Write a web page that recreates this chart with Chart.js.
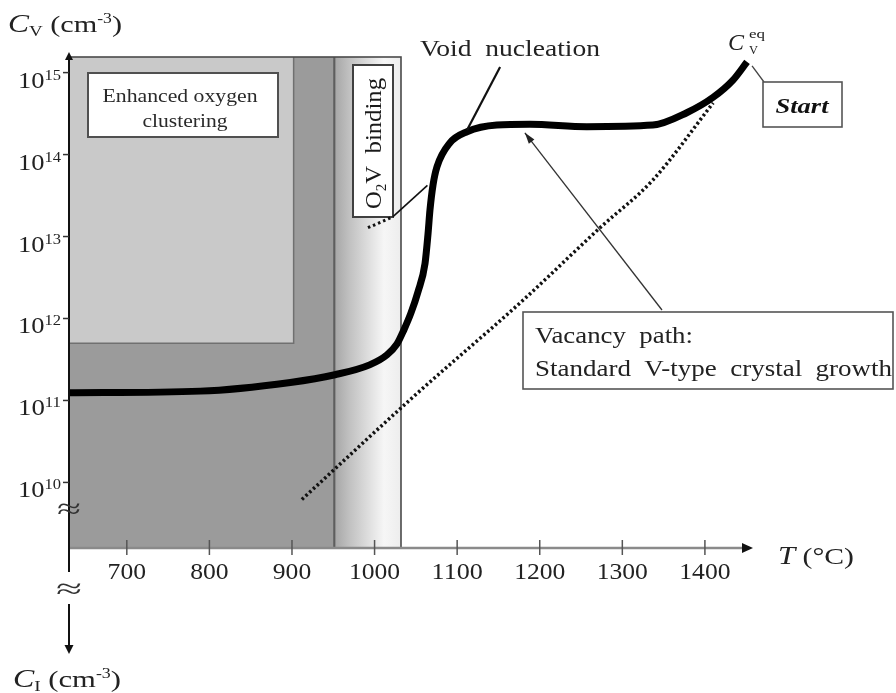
<!DOCTYPE html>
<html><head><meta charset="utf-8">
<script src="https://cdn.jsdelivr.net/npm/chart.js@4.4.1/dist/chart.umd.min.js"></script>
<style>html,body{margin:0;padding:0;background:#fff}#wrap{width:896px;height:693px}</style>
</head><body><div id="wrap"><canvas id="c" width="896" height="693"></canvas></div>
<script>
// ---- data ----
const curveT  = [630, 789, 898, 952, 994, 1015, 1027.2, 1035.6, 1044.1, 1052.6, 1061.1, 1064.7, 1067.1, 1070.8, 1075.6, 1091, 1112, 1148, 1188, 1257, 1337, 1378, 1410, 1434, 1451];
const curveCv = [1.24e11, 1.30e11, 1.66e11, 2.06e11, 2.72e11, 3.6e11, 4.9e11, 7.3e11, 1.17e12, 2.12e12, 4.7e12, 1.07e13, 2.11e13, 4.27e13, 7.1e13, 1.38e14, 1.9e14, 2.29e14, 2.34e14, 2.19e14, 2.29e14, 3.24e14, 5.0e14, 8.1e14, 1.35e15];
const pathT   = [912, 1047, 1180, 1273, 1337, 1410];
const pathCv  = [6.2e9, 1.11e11, 1.68e12, 1.28e13, 4.9e13, 4.27e14];
const o2vDotT = [992, 1022];
const o2vDotCv= [1.28e13, 1.74e13];
const o2vT    = [1022, 1064];
const o2vCv   = [1.74e13, 4.2e13];
const voidT   = [1152, 1112];
const voidCv  = [1.17e15, 2.0e14];
const arrowT  = [1348, 1182];
const arrowCv = [1.27e12, 1.84e14];
const xTicks  = [700, 800, 900, 1000, 1100, 1200, 1300, 1400];
const yTickExp = [10, 11, 12, 13, 14, 15];
const yTickVals = [1e10, 1e11, 1e12, 1e13, 1e14, 1e15];
const clusterT = [630, 902];
const clusterCvBottom = 5.0e11;
const darkT = [630, 950];
const bindT = [950, 1032];
const xRange = [630, 1454.6];
const yRange = [1.585e9, 1.55e15];

const SERIF = '"Liberation Serif", "DejaVu Serif", serif';
function pts(xs, ys){ return xs.map((v,i)=>({x:v, y:ys[i]})); }

function drawRuns(ctx, runs, x, y, targetW, align){
  let total = 0; const ws = [];
  for (const r of runs){ ctx.font = r[1]; const w = ctx.measureText(r[0]).width; ws.push(w); total += w; }
  const s = targetW ? targetW/total : 1;
  const W = total*s;
  const x0 = align==='center' ? x-W/2 : align==='right' ? x-W : x;
  ctx.save(); ctx.translate(x0, y); ctx.scale(s, 1);
  ctx.textBaseline = 'alphabetic'; ctx.textAlign = 'left';
  let cx = 0;
  runs.forEach((r,i)=>{ ctx.font = r[1]; ctx.fillText(r[0], cx, r[2]||0); cx += ws[i]; });
  ctx.restore();
}
function arrowHead(ctx, x1, y1, x2, y2, len, half){
  const a = Math.atan2(y2-y1, x2-x1);
  ctx.beginPath();
  ctx.moveTo(x2, y2);
  ctx.lineTo(x2 - len*Math.cos(a) + half*Math.sin(a), y2 - len*Math.sin(a) - half*Math.cos(a));
  ctx.lineTo(x2 - len*Math.cos(a) - half*Math.sin(a), y2 - len*Math.sin(a) + half*Math.cos(a));
  ctx.closePath(); ctx.fill();
}
function box(ctx, x, y, w, h, lw, col){
  ctx.fillStyle = '#fff'; ctx.fillRect(x, y, w, h);
  ctx.strokeStyle = col; ctx.lineWidth = lw; ctx.strokeRect(x, y, w, h);
}

const figPlugin = {
  id: 'fig',
  beforeDraw(chart){
    const ctx = chart.ctx; ctx.save(); ctx.fillStyle = '#fff'; ctx.fillRect(0,0,chart.width,chart.height); ctx.restore();
  },
  beforeDatasetsDraw(chart){
    const ctx = chart.ctx, xs = chart.scales.x, ys = chart.scales.y;
    const top = chart.chartArea.top, bottom = chart.chartArea.bottom;
    ctx.save();
    const xd0 = xs.getPixelForValue(darkT[0]), xd1 = xs.getPixelForValue(darkT[1]);
    const xb1 = xs.getPixelForValue(bindT[1]);
    const xc1 = xs.getPixelForValue(clusterT[1]);
    const yc = ys.getPixelForValue(clusterCvBottom);
    // dark region
    ctx.fillStyle = '#9b9b9b'; ctx.fillRect(xd0, top, xd1-xd0, bottom-top);
    // binding gradient
    const g = ctx.createLinearGradient(xd1, 0, xb1, 0);
    g.addColorStop(0, '#a4a4a4'); g.addColorStop(0.25, '#c2c2c2'); g.addColorStop(0.75, '#f6f6f6'); g.addColorStop(1, '#ededed');
    ctx.fillStyle = g; ctx.fillRect(xd1, top, xb1-xd1, bottom-top);
    // clustering region
    ctx.fillStyle = '#c9c9c9'; ctx.fillRect(xd0, top, xc1-xd0, yc-top);
    ctx.strokeStyle = '#707070'; ctx.lineWidth = 1.5;
    ctx.beginPath(); ctx.moveTo(xc1, top); ctx.lineTo(xc1, yc); ctx.lineTo(xd0, yc); ctx.stroke();
    // dark boundary line
    ctx.strokeStyle = '#5e5e5e'; ctx.lineWidth = 2.2;
    ctx.beginPath(); ctx.moveTo(xd1+1, top); ctx.lineTo(xd1+1, bottom); ctx.stroke();
    // outer frame
    ctx.strokeStyle = '#4a4a4a'; ctx.lineWidth = 1.6;
    ctx.strokeRect(xd0, top, xb1-xd0, bottom-top);
    // Enhanced oxygen clustering box
    box(ctx, 88, 73, 190, 64, 2, '#505050');
    ctx.fillStyle = '#2a2a2a';
    drawRuns(ctx, [['Enhanced oxygen', '19px '+SERIF]], 180, 102, 155, 'center');
    drawRuns(ctx, [['clustering', '19px '+SERIF]], 185, 127, 85, 'center');
    // O2V binding box
    box(ctx, 353, 65, 40, 152, 2, '#404040');
    ctx.save(); ctx.translate(381, 209); ctx.rotate(-Math.PI/2);
    ctx.fillStyle = '#1a1a1a';
    drawRuns(ctx, [['O', '23px '+SERIF], ['2', '14px '+SERIF, 5], ['V  binding', '23px '+SERIF]], 0, 0, 131, 'left');
    ctx.restore();
    ctx.restore();
  },
  afterDatasetsDraw(chart){
    const ctx = chart.ctx, xs = chart.scales.x, ys = chart.scales.y;
    const ca = chart.chartArea;
    ctx.save();
    // vacancy path arrow head
    ctx.fillStyle = '#222';
    const ax1 = xs.getPixelForValue(arrowT[0]), ay1 = ys.getPixelForValue(arrowCv[0]);
    const ax2 = xs.getPixelForValue(arrowT[1]), ay2 = ys.getPixelForValue(arrowCv[1]);
    arrowHead(ctx, ax1, ay1, ax2, ay2, 11, 3.5);
    // x axis
    ctx.strokeStyle = '#8a8a8a'; ctx.lineWidth = 2.5;
    ctx.beginPath(); ctx.moveTo(ca.left, ca.bottom); ctx.lineTo(ca.right-5, ca.bottom); ctx.stroke();
    ctx.fillStyle = '#111';
    arrowHead(ctx, ca.left, ca.bottom, ca.right+3, ca.bottom, 11, 5);
    ctx.strokeStyle = '#555'; ctx.lineWidth = 1.5;
    ctx.fillStyle = '#222';
    xTicks.forEach(v=>{
      const px = xs.getPixelForValue(v);
      ctx.beginPath(); ctx.moveTo(px, ca.bottom-8); ctx.lineTo(px, ca.bottom+7); ctx.stroke();
      drawRuns(ctx, [[String(v), '24px '+SERIF]], px, 579, String(v).length*12.8, 'center');
    });
    // y axis
    ctx.strokeStyle = '#111'; ctx.lineWidth = 2;
    ctx.beginPath(); ctx.moveTo(ca.left, ca.top); ctx.lineTo(ca.left, 572); ctx.stroke();
    ctx.beginPath(); ctx.moveTo(ca.left, 604); ctx.lineTo(ca.left, 646); ctx.stroke();
    ctx.fillStyle = '#111';
    arrowHead(ctx, ca.left, ca.top+10, ca.left, ca.top-5, 8, 4);
    arrowHead(ctx, ca.left, 600, ca.left, 654, 9, 4.5);
    ctx.strokeStyle = '#333'; ctx.lineWidth = 1.5;
    ctx.fillStyle = '#222';
    yTickVals.forEach((v,i)=>{
      const py = ys.getPixelForValue(v);
      ctx.beginPath(); ctx.moveTo(ca.left-6, py); ctx.lineTo(ca.left, py); ctx.stroke();
      drawRuns(ctx, [['10', '24px '+SERIF], [String(yTickExp[i]), '15px '+SERIF, -8]], 61, py+15, 43, 'right');
    });
    // axis breaks
    ctx.fillStyle = '#333';
    drawRuns(ctx, [['≈', '28px '+SERIF]], ca.left, 518, 24, 'center');
    ctx.fillStyle = '#fff'; ctx.fillRect(ca.left-12, 576, 24, 26);
    ctx.fillStyle = '#333';
    drawRuns(ctx, [['≈', '28px '+SERIF]], ca.left, 598, 26, 'center');
    // axis titles
    ctx.fillStyle = '#222';
    drawRuns(ctx, [['C', 'italic 25px '+SERIF], ['V', '15px '+SERIF, 4], [' (cm', '24px '+SERIF], ['-3', '14px '+SERIF, -9], [')', '24px '+SERIF]], 8, 32, 114, 'left');
    drawRuns(ctx, [['C', 'italic 25px '+SERIF], ['I', '15px '+SERIF, 4], [' (cm', '24px '+SERIF], ['-3', '14px '+SERIF, -9], [')', '24px '+SERIF]], 13, 687, 108, 'left');
    drawRuns(ctx, [['T', 'italic 25px '+SERIF], [' (°C)', '24px '+SERIF]], 778, 564, 76, 'left');
    // annotations
    drawRuns(ctx, [['Void  nucleation', '24px '+SERIF]], 420, 56, 180, 'left');
    drawRuns(ctx, [['C', 'italic 24px '+SERIF]], 728, 50, 16, 'left');
    drawRuns(ctx, [['eq', '13px '+SERIF]], 749, 38, 16, 'left');
    drawRuns(ctx, [['V', '13px '+SERIF]], 749, 54, 9, 'left');
    // Start connector and box
    const ex = xs.getPixelForValue(curveT[curveT.length-1]), ey = ys.getPixelForValue(curveCv[curveCv.length-1]);
    ctx.strokeStyle = '#444'; ctx.lineWidth = 1.3;
    ctx.beginPath(); ctx.moveTo(ex+5, ey+4); ctx.lineTo(764, 82); ctx.stroke();
    box(ctx, 763, 82, 79, 45, 1.6, '#555');
    ctx.fillStyle = '#111';
    drawRuns(ctx, [['Start', 'italic bold 22px '+SERIF]], 802, 113, 53, 'center');
    // Vacancy path box
    box(ctx, 523, 312, 370, 77, 1.6, '#555');
    ctx.fillStyle = '#222';
    drawRuns(ctx, [['Vacancy  path:', '24px '+SERIF]], 535, 343, 158, 'left');
    drawRuns(ctx, [['Standard  V-type  crystal  growth', '24px '+SERIF]], 535, 376, 357, 'left');
    ctx.restore();
  }
};

new Chart(document.getElementById('c'), {
  type: 'scatter',
  data: {
    datasets: [
      { data: pts(pathT, pathCv), showLine: true, borderColor: '#111', borderWidth: 3.5, borderDash: [2.5, 2.6], pointRadius: 0, cubicInterpolationMode: 'monotone', borderCapStyle: 'butt' },
      { data: pts(o2vDotT, o2vDotCv), showLine: true, borderColor: '#111', borderWidth: 3, borderDash: [2.5, 3], pointRadius: 0 },
      { data: pts(o2vT, o2vCv), showLine: true, borderColor: '#111', borderWidth: 1.6, pointRadius: 0 },
      { data: pts(voidT, voidCv), showLine: true, borderColor: '#111', borderWidth: 2.2, pointRadius: 0 },
      { data: pts(arrowT, arrowCv), showLine: true, borderColor: '#333', borderWidth: 1.3, pointRadius: 0 },
      { data: pts(curveT, curveCv), showLine: true, borderColor: '#000', borderWidth: 7, pointRadius: 0, cubicInterpolationMode: 'monotone', borderCapStyle: 'butt', borderJoinStyle: 'round' }
    ]
  },
  options: {
    responsive: false, animation: false, devicePixelRatio: 1,
    layout: { padding: { left: 69, right: 146, top: 57, bottom: 145 } },
    plugins: { legend: { display: false }, tooltip: { enabled: false } },
    scales: {
      x: { type: 'linear', display: false, min: xRange[0], max: xRange[1] },
      y: { type: 'logarithmic', display: false, min: yRange[0], max: yRange[1] }
    }
  },
  plugins: [figPlugin]
});
</script>
</body></html>
